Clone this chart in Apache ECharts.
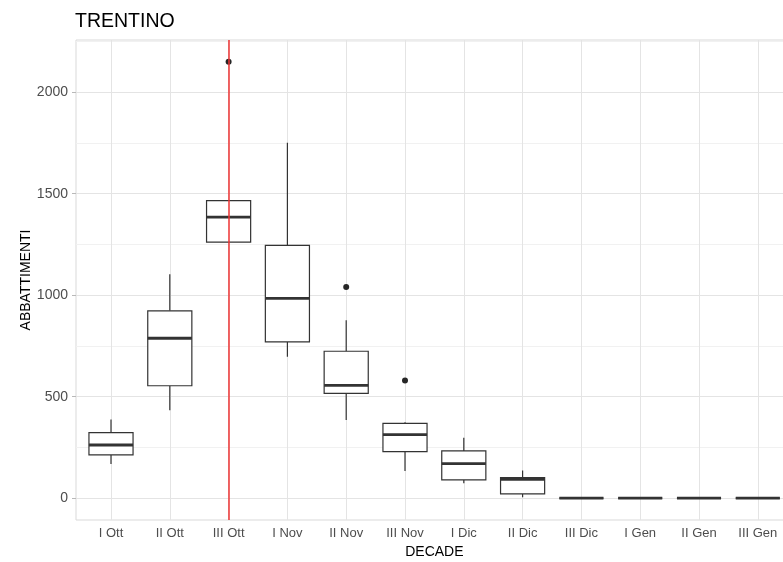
<!DOCTYPE html>
<html>
<head>
<meta charset="utf-8">
<script src="https://cdn.jsdelivr.net/npm/echarts@6/dist/echarts.min.js"></script>
<style>html,body{margin:0;padding:0;background:#fff}#chart{width:783px;height:562px}</style>
</head>
<body>
<div id="chart"></div>
<script>
// ---- data ----
const categories = ['I Ott','II Ott','III Ott','I Nov','II Nov','III Nov','I Dic','II Dic','III Dic','I Gen','II Gen','III Gen'];
const whiskerLow  = [169, 433, 1262, 697, 385, 134,  74,   5, 0, 0, 0, 0];
const q1          = [213, 554, 1262, 770, 516, 229,  90,  21, 0, 0, 0, 0];
const median      = [262, 788, 1385, 984, 556, 313, 170,  93, 0, 0, 0, 0];
const q3          = [323, 923, 1466, 1246, 724, 369, 233, 101, 0, 0, 0, 0];
const whiskerHigh = [388, 1103, 1466, 1751, 877, 374, 298, 136, 0, 0, 0, 0];
const outlierCats = ['III Ott', 'II Nov', 'III Nov'];
const outlierVals = [2150, 1041, 580];
const yMajorTicks = [0, 500, 1000, 1500, 2000];
const yMinorLines = [250, 750, 1250, 1750, 2250];
const vlineCategory = 'III Ott';
const yMin = -107.5, yMax = 2257.5;

// ---- build ----
const boxData = categories.map((c, i) => [i, whiskerLow[i], q1[i], median[i], q3[i], whiskerHigh[i]]);
const outlierData = outlierCats.map((c, i) => [c, outlierVals[i]]);

const FONT = 'Liberation Sans, Arial, sans-serif';
const MAJOR = '#e4e4e4', MINOR = '#f1f1f1';

function renderBox(params, api) {
  const x = api.value(0);
  const pLow = api.coord([x, api.value(1)]);
  const pQ1 = api.coord([x, api.value(2)]);
  const pMed = api.coord([x, api.value(3)]);
  const pQ3 = api.coord([x, api.value(4)]);
  const pHigh = api.coord([x, api.value(5)]);
  const w = api.size([1, 0])[0] * 0.75;
  const cx = pMed[0];
  const lw = 1.2, col = '#333333';
  return {
    type: 'group',
    children: [
      { type: 'line', shape: { x1: cx, y1: pHigh[1], x2: cx, y2: pQ3[1] }, style: { stroke: col, lineWidth: lw } },
      { type: 'line', shape: { x1: cx, y1: pQ1[1], x2: cx, y2: pLow[1] }, style: { stroke: col, lineWidth: lw } },
      { type: 'rect', shape: { x: cx - w / 2, y: pQ3[1], width: w, height: pQ1[1] - pQ3[1] }, style: { stroke: col, fill: '#ffffff', lineWidth: lw } },
      { type: 'line', shape: { x1: cx - w / 2, y1: pMed[1], x2: cx + w / 2, y2: pMed[1] }, style: { stroke: col, lineWidth: 2.8 } }
    ]
  };
}

const chart = echarts.init(document.getElementById('chart'), null, { renderer: 'canvas' });
chart.setOption({
  animation: false,
  backgroundColor: '#ffffff',
  textStyle: { fontFamily: FONT },
  title: {
    text: 'TRENTINO', left: 75, top: 12, padding: 0,
    textStyle: { fontFamily: FONT, fontSize: 19.5, fontWeight: 'normal', color: '#000' }
  },
  grid: [
    { left: 76, right: -10, top: 40, bottom: 42, show: true, borderColor: '#d9d9d9', borderWidth: 1,
      backgroundColor: 'transparent', outerBoundsMode: 'none', containLabel: false },
    { left: 81.6, right: -4.2, top: 40, bottom: 42, outerBoundsMode: 'none', containLabel: false }
  ],
  xAxis: [
    { gridIndex: 0, type: 'value', min: 0, max: 1,
      axisLine: { show: true, lineStyle: { color: '#bdbdbd', width: 1 } },
      axisTick: { show: false }, axisLabel: { show: false }, splitLine: { show: false } },
    { gridIndex: 1, type: 'category', data: categories, boundaryGap: true,
      axisLine: { show: false },
      axisTick: { show: true, alignWithLabel: true, length: 3, lineStyle: { color: '#c4c4c4' } },
      axisLabel: { color: '#4d4d4d', fontSize: 13, margin: 7, fontFamily: FONT, interval: 0 },
      splitLine: { show: false },
      name: 'DECADE', nameLocation: 'middle', nameGap: 25, nameMoveOverlap: false,
      nameTextStyle: { color: '#000', fontSize: 14, fontFamily: FONT } }
  ],
  yAxis: [
    { gridIndex: 0, type: 'value', min: yMin, max: yMax,
      axisLine: { show: false },
      axisTick: { show: true, length: 4, customValues: yMajorTicks, lineStyle: { color: '#b8b8b8' } },
      axisLabel: { color: '#4d4d4d', fontSize: 14, margin: 8, fontFamily: FONT, customValues: yMajorTicks,
        formatter: v => String(v) },
      splitLine: { show: false },
      name: 'ABBATTIMENTI', nameLocation: 'middle', nameGap: 43, nameRotate: 90, nameMoveOverlap: false,
      nameTextStyle: { color: '#000', fontSize: 14, fontFamily: FONT } },
    { gridIndex: 1, type: 'value', min: yMin, max: yMax, show: false }
  ],
  series: [
    { // horizontal grid lines
      type: 'line', xAxisIndex: 0, yAxisIndex: 0, data: [[0.5, 0]], showSymbol: false, silent: true,
      lineStyle: { opacity: 0 }, z: 1,
      markLine: {
        silent: true, symbol: 'none', z: 1, label: { show: false }, animation: false,
        data: yMinorLines.map(v => ({ yAxis: v, lineStyle: { color: MINOR, width: 1, type: 'solid' } }))
          .concat(yMajorTicks.map(v => ({ yAxis: v, lineStyle: { color: MAJOR, width: 1, type: 'solid' } })))
      }
    },
    { // vertical grid lines
      type: 'line', xAxisIndex: 1, yAxisIndex: 1, data: [[categories[0], 0]], showSymbol: false, silent: true,
      lineStyle: { opacity: 0 }, z: 1,
      markLine: {
        silent: true, symbol: 'none', z: 1, label: { show: false }, animation: false,
        data: categories.map(c => ({ xAxis: c, lineStyle: { color: MAJOR, width: 1, type: 'solid' } }))
      }
    },
    { // boxes
      type: 'custom', xAxisIndex: 1, yAxisIndex: 1, data: boxData, renderItem: renderBox,
      encode: { x: 0, y: [1, 2, 3, 4, 5] }, z: 3, silent: true
    },
    { // outliers
      type: 'scatter', xAxisIndex: 1, yAxisIndex: 1, data: outlierData, symbol: 'circle', symbolSize: 6,
      itemStyle: { color: '#262626', opacity: 1 }, z: 4, silent: true,
      markLine: {
        silent: true, symbol: 'none', z: 10, label: { show: false }, animation: false,
        data: [{ xAxis: vlineCategory, lineStyle: { color: '#ee3333', width: 1.5, type: 'solid' } }]
      }
    }
  ]
});
</script>
</body>
</html>
